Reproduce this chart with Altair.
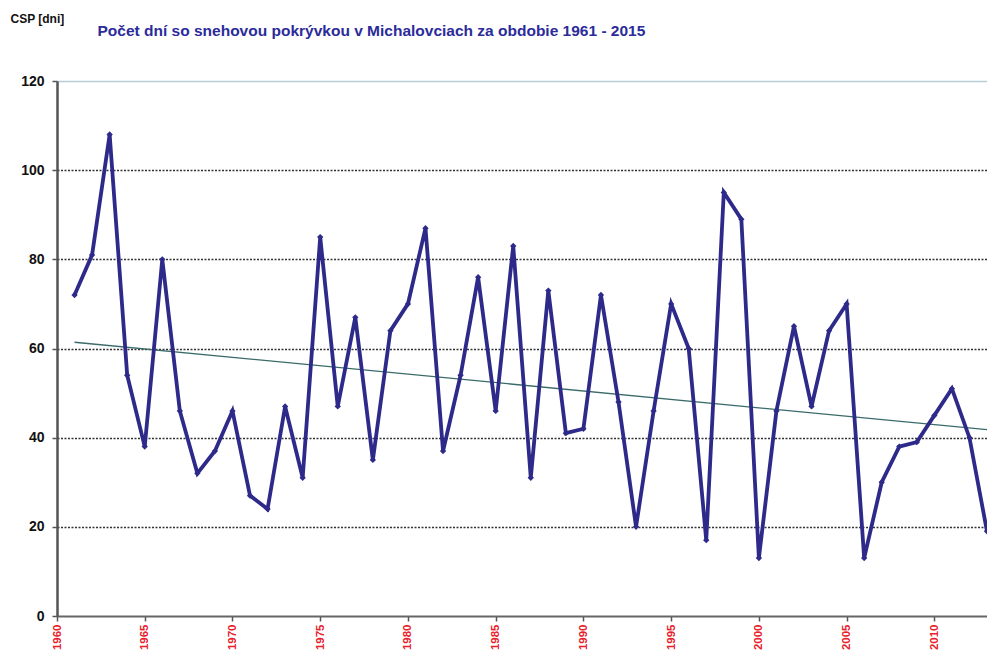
import altair as alt
import pandas as pd

years = list(range(1961, 2014))
days = [72, 81, 108, 54, 38, 80, 46, 32, 37, 46,
        27, 24, 47, 31, 85, 47, 67, 35, 64, 70,
        87, 37, 54, 76, 46, 83, 31, 73, 41, 42,
        72, 48, 20, 46, 70, 60, 17, 95, 89, 13,
        46, 65, 47, 64, 70, 13, 30, 38, 39, 45,
        51, 40, 19]

trend_years = [1961, 2013]
trend_vals = [61.4, 41.8]

tick_years = list(range(1960, 2015, 5))
y_ticks = [0, 20, 40, 60, 80, 100, 120]

main_title = "Počet dní so snehovou pokrývkou v Michalovciach za obdobie 1961 - 2015"

df = pd.DataFrame({"rok": years, "dni": days})
tdf = pd.DataFrame({"rok": trend_years, "dni": trend_vals})

x_scale = alt.Scale(domain=[1960, 2013], nice=False, zero=False)
y_scale = alt.Scale(domain=[0, 120], nice=False)

x_axis = alt.Axis(values=tick_years, format="d", labelAngle=270, labelAlign="right",
                  labelBaseline="middle", labelColor="#e8202a", labelFont="Liberation Sans",
                  labelFontWeight="bold", labelFontSize=11.5, labelPadding=3,
                  tickColor="#555555", tickSize=5, tickWidth=1.5,
                  domainColor="#666666", domainWidth=2, grid=False, title=None)

x_top_axis = alt.Axis(orient="top", labels=False, ticks=False, domain=False, grid=False,
                      title=main_title, titleX=40, titleY=-46, titleAlign="left",
                      titleBaseline="alphabetic", titleColor="#2b2b9a",
                      titleFont="Liberation Sans", titleFontSize=15.5, titleFontWeight="bold")

y_axis = alt.Axis(values=y_ticks, labelColor="#111111", labelFont="Liberation Sans",
                  labelFontWeight="bold", labelFontSize=14, labelPadding=8,
                  tickColor="#555555", tickSize=5, tickWidth=1.5,
                  domainColor="#555555", domainWidth=2.5,
                  grid=True,
                  gridColor={"condition": {"test": "datum.value === 120", "value": "#b9ccd8"}, "value": "#333333"},
                  gridDash={"condition": {"test": "datum.value === 120", "value": []}, "value": [2, 1.5]},
                  gridWidth={"condition": {"test": "datum.value === 0", "value": 0}, "value": 1.3},
                  title="CSP [dni]", titleAngle=0, titleAlign="left", titleBaseline="middle",
                  titleX=-47, titleY=-63, titleFont="Liberation Sans", titleFontSize=12,
                  titleFontWeight="bold", titleColor="#111111")

line = alt.Chart(df).mark_line(
    color="#2e2a8a", strokeWidth=3.8, clip=False,
    point=alt.OverlayMarkDef(shape="diamond", size=40, filled=True, color="#2e2a8a")
).encode(
    x=alt.X("rok:Q", scale=x_scale, axis=x_axis),
    y=alt.Y("dni:Q", scale=y_scale, axis=y_axis),
)

trend = alt.Chart(tdf).mark_line(color="#3a6a6a", strokeWidth=1.3, clip=True).encode(
    x=alt.X("rok:Q", scale=x_scale, axis=x_top_axis),
    y=alt.Y("dni:Q", scale=y_scale),
)

chart = alt.layer(trend, line).resolve_axis(x="independent").properties(
    width=930, height=535,
    padding={"left": 49, "top": 73, "right": 0, "bottom": 35},
    autosize=alt.AutoSizeParams(type="none"),
).configure_view(stroke=None).configure(background="white")

chart.save("out.html", embed_options={"renderer": "svg", "actions": False})
